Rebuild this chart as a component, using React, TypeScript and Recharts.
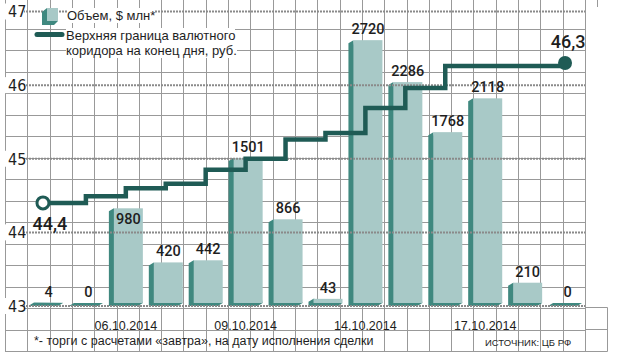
import React from 'react';
import {
  ComposedChart, Bar, Line, XAxis, YAxis, LabelList, Legend, ReferenceLine, CartesianGrid,
} from 'recharts';

// ---- data ----
const dates = [
  '02.10.2014', '03.10.2014', '06.10.2014', '07.10.2014', '08.10.2014', '09.10.2014', '10.10.2014',
  '13.10.2014', '14.10.2014', '15.10.2014', '16.10.2014', '17.10.2014', '20.10.2014', '21.10.2014',
];
const shownDates = ['06.10.2014', '09.10.2014', '14.10.2014', '17.10.2014'];
const volume = [4, 0, 980, 420, 442, 1501, 866, 43, 2720, 2286, 1768, 2118, 210, 0];
const corridor = [44.4, 44.49, 44.6, 44.66, 44.85, 45.0, 45.26, 45.35, 45.69, 45.96, 46.26, 46.26, 46.26, 46.3];
const rubTicks = [43, 44, 45, 46, 47];
const insideLabelDates = ['06.10.2014'];

const volumeName = 'Объем, $ млн*';
const corridorName = ['Верхняя граница валютного', 'коридора на конец дня, руб.'];
const footnote = '*- торги с расчетами «завтра», на дату исполнения сделки';
const source = 'ИСТОЧНИК: ЦБ РФ';

const data = dates.map((d, i) => ({ date: d, volume: volume[i], corridor: corridor[i] }));

// ---- style / layout ----
const W = 617;
const H = 359;
const MARGIN = { top: 0, right: 32, bottom: 7, left: 4 };
const PLOT_LEFT = 5;
const PLOT_RIGHT = 585;
const PLOT_BOTTOM = 351;
const FONT = "'Liberation Sans', Arial, sans-serif";
const NARROW = "'Liberation Sans Narrow', 'DejaVu Sans Condensed', 'Liberation Sans', sans-serif";
const NUM_FONT = "Roboto, 'Liberation Sans', sans-serif";
const BAR_FRONT = '#a8c9c7';
const BAR_SIDE = '#3f887f';
const LINE_COLOR = '#1f5b55';
const GRID = '#999999';
const TEXT = '#1e1e1e';
const DEPTH_X = 5;
const DEPTH_Y = 3;
// graph paper decoration: 26 columns across the plot, rows of 21.5px from the bottom
const GRID_COLS = 26;
const GRID_ROWS = 15;
const GRID_STEP_Y = 21.5;

const gridX = Array.from({ length: GRID_COLS + 1 }, (_, k) =>
  Math.round(PLOT_LEFT + (k * (PLOT_RIGHT - PLOT_LEFT)) / GRID_COLS) + 0.5);
const gridY = Array.from({ length: GRID_ROWS + 1 }, (_, k) => Math.round(PLOT_BOTTOM - k * GRID_STEP_Y) + 0.5);

// graph paper behind the chart
const GraphPaper = () => (
  <svg width={W} height={H} style={{ position: 'absolute', left: 0, top: 0, pointerEvents: 'none' }}>
    {gridX.map((x, i) => (
      <line key={`v${i}`} x1={x} y1={0} x2={x} y2={PLOT_BOTTOM + 0.5} stroke={GRID} strokeWidth={1} />
    ))}
    {gridY.map((y, i) => (
      <line key={`h${i}`} x1={PLOT_LEFT} y1={y} x2={PLOT_RIGHT + 0.5} y2={y} stroke={GRID} strokeWidth={1} />
    ))}
    <line x1={PLOT_RIGHT} y1={307.5} x2={607.5} y2={307.5} stroke={GRID} />
    <line x1={PLOT_RIGHT} y1={329.5} x2={607.5} y2={329.5} stroke={GRID} />
    <line x1={PLOT_RIGHT} y1={351.5} x2={607.5} y2={351.5} stroke={GRID} />
    <line x1={607.5} y1={307.5} x2={607.5} y2={351.5} stroke={GRID} />
    <line x1={597.5} y1={0} x2={597.5} y2={7} stroke={GRID} />
  </svg>
);

const BarShape = (props: any) => {
  const { x, y, width, height } = props;
  const base = y + height;
  const top = Math.min(y, base);
  const pts = [
    [x + DEPTH_X, top],
    [x, top + DEPTH_Y],
    [x, base + DEPTH_Y],
    [x + width - DEPTH_X, base + DEPTH_Y],
    [x + width, base],
  ]
    .map((p) => p.join(','))
    .join(' ');
  return (
    <g>
      <polygon points={pts} fill={BAR_SIDE} />
      {base - top > 0 && (
        <rect x={x + DEPTH_X} y={top} width={width - DEPTH_X} height={base - top} fill={BAR_FRONT} />
      )}
    </g>
  );
};

const BarLabel = (props: any) => {
  const { x, y, width, value, index } = props;
  const cx = x + (width + DEPTH_X) / 2;
  const inside = insideLabelDates.includes(dates[index]);
  return (
    <text
      x={cx}
      y={inside ? y + 16 : y - 6}
      textAnchor="middle"
      fontFamily={NUM_FONT}
      fontWeight={500}
      fontSize={14.5}
      fill={TEXT}
    >
      {value}
    </text>
  );
};

const LineLabel = (props: any) => {
  const { x, y, value, index } = props;
  const txt = String(value).replace('.', ',');
  if (index === 0) {
    return (
      <text x={x + 4} y={y + 27} textAnchor="middle" fontFamily={NUM_FONT} fontWeight={500} fontSize={18} fill={TEXT}>
        {txt}
      </text>
    );
  }
  if (index === corridor.length - 1) {
    return (
      <text x={x + 3} y={y - 15} textAnchor="middle" fontFamily={NUM_FONT} fontWeight={500} fontSize={18} fill={TEXT}>
        {txt}
      </text>
    );
  }
  return null;
};

const LineDot = (props: any) => {
  const { cx, cy, index } = props;
  if (index === 0) {
    return <circle key={`dot-${index}`} cx={cx - 3} cy={cy} r={6} fill="#fff" stroke={LINE_COLOR} strokeWidth={3} />;
  }
  if (index === corridor.length - 1) {
    return <circle key={`dot-${index}`} cx={cx} cy={cy} r={7} fill={LINE_COLOR} />;
  }
  return <g key={`dot-${index}`} />;
};

const RubTick = (props: any) => {
  const { y, payload } = props;
  return (
    <g>
      <rect x={PLOT_LEFT - 1} y={y - 8} width={20} height={16} fill="#fff" />
      <text x={PLOT_LEFT + 3} y={y + 5.8} fontFamily={NARROW} fontSize={16} fill={TEXT}>
        {payload.value}
      </text>
    </g>
  );
};

const DateTick = (props: any) => {
  const { x, payload } = props;
  if (!shownDates.includes(payload.value)) return <g />;
  return (
    <text x={x} y={PLOT_BOTTOM - 21} textAnchor="middle" fontFamily={FONT} fontSize={12.5} fill={TEXT}>
      {payload.value}
    </text>
  );
};

const LegendContent = () => (
  <div style={{ position: 'relative', width: W, height: H, fontFamily: FONT, color: TEXT, pointerEvents: 'none' }}>
    <svg width={W} height={H} style={{ position: 'absolute', left: 0, top: 0 }}>
      <polygon points="47,8 42,12 42,25 54,25 58,21 58,8" fill={BAR_SIDE} />
      <rect x={47} y={8} width={11} height={13} fill={BAR_FRONT} />
      <line x1={37} y1={34.5} x2={62} y2={34.5} stroke={LINE_COLOR} strokeWidth={5} strokeLinecap="round" />
    </svg>
    <span style={{ position: 'absolute', left: 67, top: 8, fontSize: 13, lineHeight: '15px', background: '#fff' }}>
      {volumeName}
    </span>
    <span style={{ position: 'absolute', left: 66, top: 28, fontSize: 13, lineHeight: '15px', background: '#fff' }}>
      {corridorName[0]}
    </span>
    <span style={{ position: 'absolute', left: 66, top: 43, fontSize: 13, lineHeight: '15px', background: '#fff' }}>
      {corridorName[1]}
    </span>
    <span style={{ position: 'absolute', left: 34, top: 334, fontSize: 12.5, lineHeight: '15px', whiteSpace: 'nowrap' }}>
      {footnote}
    </span>
    <span style={{ position: 'absolute', left: 485, top: 336, fontSize: 9.5, lineHeight: '13px', whiteSpace: 'nowrap' }}>
      {source}
    </span>
  </div>
);

export default function App() {
  return (
    <div style={{ position: 'absolute', left: 0, top: 0, width: W, height: H, background: '#fff' }}>
      <GraphPaper />
      <ComposedChart width={W} height={H} data={data} margin={MARGIN}>
        <CartesianGrid
          yAxisId="rub"
          stroke={GRID}
          strokeWidth={1}
          fill="none"
          verticalPoints={gridX}
          horizontalPoints={gridY}
        />
        {rubTicks.map((t) => (
          <ReferenceLine
            key={t}
            yAxisId="rub"
            y={t}
            stroke="#8a8a8a"
            strokeWidth={2}
            strokeDasharray="2 1"
          />
        ))}
        <XAxis
          dataKey="date"
          height={1}
          axisLine={false}
          tickLine={false}
          tickSize={0}
          tickMargin={0}
          interval={0}
          padding={{ left: 21, right: 0 }}
          tick={DateTick}
        />
        <YAxis
          yAxisId="rub"
          domain={[43, 47]}
          ticks={rubTicks}
          width={1}
          axisLine={false}
          tickLine={false}
          tickSize={0}
          tickMargin={0}
          padding={{ top: 11.5, bottom: 45 }}
          tick={RubTick}
        />
        <YAxis
          yAxisId="vol"
          orientation="right"
          hide
          domain={[0, 3000]}
          padding={{ top: 13.1, bottom: 48 }}
        />
        <Bar yAxisId="vol" dataKey="volume" name={volumeName} barSize={34} shape={BarShape} isAnimationActive={false}>
          <LabelList dataKey="volume" content={BarLabel} />
        </Bar>
        <Line
          yAxisId="rub"
          type="stepAfter"
          dataKey="corridor"
          name={corridorName.join(' ')}
          stroke={LINE_COLOR}
          strokeWidth={4.5}
          strokeLinejoin="miter"
          dot={LineDot}
          activeDot={false}
          isAnimationActive={false}
        >
          <LabelList dataKey="corridor" content={LineLabel} />
        </Line>
        <Legend
          layout="horizontal"
          verticalAlign="middle"
          align="center"
          content={LegendContent}
          wrapperStyle={{ position: 'absolute', left: 0, top: 0, width: W, height: H, pointerEvents: 'none' }}
        />
      </ComposedChart>
    </div>
  );
}
